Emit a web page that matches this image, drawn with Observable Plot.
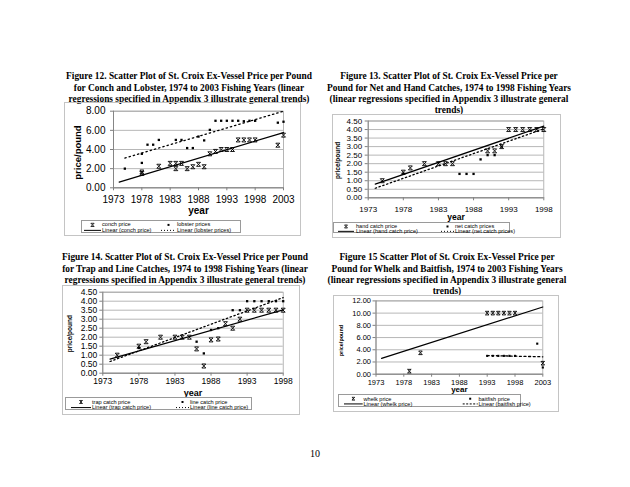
<!DOCTYPE html>
<html><head><meta charset="utf-8">
<script src="https://cdn.jsdelivr.net/npm/d3@7"></script>
<script src="https://cdn.jsdelivr.net/npm/@observablehq/plot@0.6"></script>
<style>
html,body{margin:0;padding:0;background:#fff}
#page{position:relative;width:630px;height:487px;overflow:hidden;background:#fff}
.title{position:absolute;transform:translateX(-50%);font-family:"Liberation Serif","Times New Roman",serif;font-weight:bold;font-size:9.4px;line-height:11.2px;text-align:center;white-space:nowrap;color:#000}
.area{position:absolute;border:1px solid #c4c4c4;box-sizing:border-box}
.chart{position:absolute}
.legend{position:absolute;border:1px solid #9a9a9a;box-sizing:border-box;background:#fff}
.legend span{position:absolute;font-family:"Liberation Sans",Arial,sans-serif;font-size:5.6px;line-height:6px;white-space:nowrap;color:#000;transform:translateY(-50%)}
.legend svg{position:absolute;left:0;top:0;overflow:visible}
#pnum{position:absolute;left:315px;top:453px;transform:translate(-50%,-50%);font-family:"Liberation Serif","Times New Roman",serif;font-size:10px}
</style></head><body><div id="page"></div>
<script>
// ---------- Figure 12: conch and lobster ----------
const conchYears = [1978,1978,1981,1983,1984,1984,1985,1986,1987,1988,1989,1990,1991,1992,1993,1994,1995,1996,1997,1998,2002,2003];
const conchPrice = [1.5,1.65,2.25,2.55,2.55,2.0,2.55,2.0,2.2,2.45,2.2,3.55,3.8,4.0,4.0,4.0,5.0,5.0,5.0,5.0,4.45,5.5];
const lobsterYears = [1975,1978,1978,1979,1980,1981,1984,1985,1986,1987,1988,1989,1990,1991,1992,1993,1994,1995,1996,1997,1998,2002,2003];
const lobsterPrice = [2.0,2.6,3.55,4.5,4.5,5.0,5.0,5.0,4.15,4.15,5.35,4.95,6.05,7.0,7.0,7.0,7.0,7.0,6.95,7.0,7.0,6.8,6.9];
const conchTrendYears = [1974,2003], conchTrendPrice = [0.6,5.77];
const lobsterTrendYears = [1975,2003], lobsterTrendPrice = [3.1,8.0];

// ---------- Figure 13: hand and net ----------
const handYears = [1975,1978,1979,1981,1983,1984,1985,1990,1991,1992,1993,1994,1995,1996,1997,1998];
const handPrice = [1.0,1.5,1.75,2.0,2.0,2.0,2.0,2.75,2.75,3.0,4.0,4.0,4.0,4.0,4.0,4.0];
const netYears = [1978,1986,1987,1988,1989,1990,1991,1992];
const netPrice = [1.4,1.4,1.4,1.4,2.25,2.5,2.5,3.0];
const handTrendYears = [1974,1998], handTrendPrice = [0.8,4.2];
const netTrendYears = [1974,1998], netTrendPrice = [0.56,4.04];

// ---------- Figure 14: trap and line ----------
const trapYears = [1975,1978,1979,1981,1983,1984,1985,1986,1987,1988,1989,1990,1991,1992,1993,1994,1995,1996,1997,1998];
const trapPrice = [1.0,1.5,1.75,2.0,2.0,2.0,2.0,1.35,0.4,1.85,1.9,2.75,2.5,3.0,3.5,3.5,3.5,3.5,3.5,3.5];
const lineYears = [1978,1986,1987,1988,1989,1991,1992,1993,1994,1995,1996,1997,1998];
const linePrice = [1.4,1.75,1.1,2.4,2.5,3.5,3.5,4.0,4.0,4.0,4.0,4.0,4.0];
const trapTrendYears = [1974,1998], trapTrendPrice = [0.78,3.52];
const lineTrendYears = [1974,1998], lineTrendPrice = [0.65,4.2];

// ---------- Figure 15: whelk and baitfish ----------
const whelkYears = [1979,1981,1993,1994,1995,1996,1997,1998,2003];
const whelkPrice = [0.5,3.5,10,10,10,10,10,10,1.8];
const baitYears = [1993,1994,1995,1996,1997,1998,2002,2003];
const baitPrice = [3,3,3,3,3,3,5,1.1];
const whelkTrendYears = [1974,2003], whelkTrendPrice = [2.6,11.0];
const baitTrendYears = [1993,2003], baitTrendPrice = [3.05,2.85];

// ---------- tick labels ----------
const yearTicks30 = [1973,1978,1983,1988,1993,1998,2003];
const yearTicks25 = [1973,1978,1983,1988,1993,1998];
const priceTicks8 = [0,2,4,6,8];
const priceTicks45 = [0,0.5,1,1.5,2,2.5,3,3.5,4,4.5];
const priceTicks12 = [0,2,4,6,8,10,12];

// ---------- texts ----------
const titles = [
  ["Figure 12. Scatter Plot of St. Croix Ex-Vessel Price per Pound","for Conch and Lobster, 1974 to 2003 Fishing Years (linear","regressions specified in Appendix 3 illustrate general trends)"],
  ["Figure 13.  Scatter Plot of St. Croix Ex-Vessel Price per","Pound for Net and Hand Catches, 1974 to 1998 Fishing Years","(linear regressions specified in Appendix 3 illustrate general","trends)"],
  ["Figure 14.  Scatter Plot of St. Croix Ex-Vessel Price per Pound","for Trap and Line Catches, 1974 to 1998 Fishing Years (linear","regressions specified in Appendix 3 illustrate general trends)"],
  ["Figure 15  Scatter Plot of St. Croix Ex-Vessel Price per","Pound for Whelk and Baitfish, 1974 to 2003 Fishing Years","(linear regressions specified in Appendix 3 illustrate general","trends)"]
];
const legendLabels = [
  ["conch price","lobster prices","Linear (conch price)","Linear (lobster prices)"],
  ["hand catch price","net catch prices","Linear (hand catch price)","Linear (net catch prices)"],
  ["trap catch price","line catch price","Linear (trap catch price)","Linear (line catch price)"],
  ["whelk price","baitfish price","Linear (whelk price)","Linear (baitfish price)"]
];

const page = document.getElementById("page");
const rows = (xs, ys) => xs.map((x, i) => ({year: x, price: ys[i]}));

// Excel-like "x" marker (cross with top and bottom bars)
const xSym = {draw(c, s) {
  const r = Math.sqrt(s / Math.PI);
  c.moveTo(-r, -r); c.lineTo(r, r);
  c.moveTo(r, -r); c.lineTo(-r, r);
  c.moveTo(-r, -r); c.lineTo(r, -r);
  c.moveTo(-r, r); c.lineTo(r, r);
}};

function addTitle(lines, cx, top) {
  const d = document.createElement("div");
  d.className = "title";
  d.style.left = cx + "px"; d.style.top = top + "px";
  lines.forEach((l, i) => { if (i) d.appendChild(document.createElement("br")); d.appendChild(document.createTextNode(l)); });
  page.appendChild(d);
}

function addChart(cfg) {
  const a = cfg.area;
  const box = document.createElement("div");
  box.className = "area";
  Object.assign(box.style, {left: a.x + "px", top: a.y + "px", width: a.w + "px", height: a.h + "px"});
  page.appendChild(box);
  const m = cfg.m;
  const svg = Plot.plot({
    width: a.w, height: a.h,
    marginTop: m.t, marginRight: m.r, marginBottom: m.b, marginLeft: m.l,
    style: {fontFamily: '"Liberation Sans", Arial, sans-serif', fontSize: cfg.font + "px", color: "#000", background: "transparent", overflow: "visible"},
    x: {domain: cfg.xDomain, label: null},
    y: {domain: cfg.yDomain, label: null},
    marks: [
      Plot.gridY(cfg.yTicks, {stroke: "#a4a4a4", strokeOpacity: 1, strokeWidth: 0.8}),
      Plot.frame({stroke: "#a4a4a4", strokeWidth: 0.8}),
      Plot.ruleX([cfg.xDomain[0]], {stroke: "#808080", strokeWidth: 0.9}),
      Plot.ruleY([cfg.yDomain[0]], {stroke: "#808080", strokeWidth: 0.9}),
      Plot.axisX(cfg.xTicks, {tickSize: 3, tickPadding: cfg.xPad, tickFormat: d => String(d), stroke: "#808080", fill: "#000", label: null}),
      Plot.axisY(cfg.yTicks, {tickSize: 3, tickPadding: cfg.yPad, tickFormat: d => d.toFixed(2), stroke: "#808080", fill: "#000", label: null}),
      Plot.line(cfg.t1, {x: "year", y: "price", stroke: "#000", strokeWidth: 1.2}),
      Plot.line(cfg.t2, {x: "year", y: "price", stroke: "#000", strokeWidth: 1.3, strokeDasharray: cfg.dash}),
      Plot.dot(cfg.s1, {x: "year", y: "price", symbol: xSym, r: cfg.rx, stroke: "#000", strokeWidth: 0.9, fill: "none"}),
      Plot.dot(cfg.s2, {x: "year", y: "price", symbol: "square", r: cfg.rs, fill: "#000", stroke: "none"}),
      Plot.text(["price/pound"], {text: d => d, frameAnchor: "left", textAnchor: "middle", lineAnchor: "middle", rotate: -90, dx: cfg.yLab.dx, dy: cfg.yLab.dy, fontWeight: "bold", fontSize: cfg.yLab.size, fill: "#000"}),
      Plot.text(["year"], {text: d => d, frameAnchor: "bottom", textAnchor: "middle", dy: cfg.xLab.dy, fontWeight: "bold", fontSize: cfg.xLab.size, fill: "#000", lineAnchor: "middle"})
    ]
  });
  svg.classList.add("chart");
  svg.style.left = a.x + "px"; svg.style.top = a.y + "px";
  page.appendChild(svg);

  // legend
  const L = cfg.legend, labels = cfg.labels;
  const lg = document.createElement("div");
  lg.className = "legend";
  Object.assign(lg.style, {left: L.x + "px", top: L.y + "px", width: L.w + "px", height: L.h + "px"});
  const y1 = L.h * 0.3, y2 = L.h * 0.72;
  const c1a = L.c1[0] - L.x, c1b = L.c1[1] - L.x, c2a = L.c2[0] - L.x, c2b = L.c2[1] - L.x;
  const m1 = (c1a + c1b) / 2, m2 = (c2a + c2b) / 2, q = cfg.legendMark;
  const ns = "http://www.w3.org/2000/svg";
  const s = document.createElementNS(ns, "svg");
  s.setAttribute("width", L.w); s.setAttribute("height", L.h);
  s.innerHTML =
    `<path d="M${m1-q},${y1-q}L${m1+q},${y1+q}M${m1+q},${y1-q}L${m1-q},${y1+q}M${m1-q},${y1-q}H${m1+q}M${m1-q},${y1+q}H${m1+q}" stroke="#000" stroke-width="0.8" fill="none"/>` +
    `<rect x="${m2-1}" y="${y1-1}" width="2" height="2" fill="#000"/>` +
    `<line x1="${c1a}" x2="${c1b}" y1="${y2}" y2="${y2}" stroke="#000" stroke-width="1"/>` +
    `<line x1="${c2a}" x2="${c2b}" y1="${y2}" y2="${y2}" stroke="#000" stroke-width="1" stroke-dasharray="${cfg.legendDash}"/>`;
  lg.appendChild(s);
  const pos = [[L.t1, y1], [L.t2, y1], [L.t1, y2], [L.t2, y2]];
  labels.forEach((t, i) => {
    const sp = document.createElement("span");
    sp.textContent = t;
    sp.style.left = (pos[i][0] - L.x) + "px";
    sp.style.top = pos[i][1] + "px";
    lg.appendChild(sp);
  });
  page.appendChild(lg);
}

addTitle(titles[0], 189, 71.4);
addTitle(titles[1], 449, 71.4);
addTitle(titles[2], 185, 252.4);
addTitle(titles[3], 447, 252.4);

addChart({
  area: {x: 64, y: 102, w: 237, h: 134}, m: {t: 8.7, r: 18, b: 48.7, l: 49},
  xDomain: [1973, 2003], yDomain: [0, 8], xTicks: yearTicks30, yTicks: priceTicks8,
  font: 10, xPad: 4.6, yPad: 5,
  s1: rows(conchYears, conchPrice), s2: rows(lobsterYears, lobsterPrice),
  t1: rows(conchTrendYears, conchTrendPrice), t2: rows(lobsterTrendYears, lobsterTrendPrice),
  dash: "1.4,3", rx: 2, rs: 1.3,
  yLab: {dx: -36, dy: 3, size: 9.5}, xLab: {dy: 22.7, size: 10},
  legend: {x: 81, y: 219.5, w: 160, h: 13, c1: [83, 100], t1: 101, c2: [160, 175], t2: 176},
  labels: legendLabels[0], legendMark: 1.6, legendDash: "1,2"
});
addChart({
  area: {x: 332, y: 114, w: 229, h: 124}, m: {t: 6.5, r: 17.7, b: 40.7, l: 35.7},
  xDomain: [1973, 1998], yDomain: [0, 4.5], xTicks: yearTicks25, yTicks: priceTicks45,
  font: 8, xPad: 5.5, yPad: 3,
  s1: rows(handYears, handPrice), s2: rows(netYears, netPrice),
  t1: rows(handTrendYears, handTrendPrice), t2: rows(netTrendYears, netTrendPrice),
  dash: "1.4,2.6", rx: 2, rs: 1.3,
  yLab: {dx: -30.4, dy: 1, size: 6.5}, xLab: {dy: 19.4, size: 8.5},
  legend: {x: 333, y: 221.7, w: 177, h: 11.6, c1: [337, 353], t1: 355, c2: [440, 453], t2: 454},
  labels: legendLabels[1], legendMark: 1.5, legendDash: "1,2"
});
addChart({
  area: {x: 62, y: 285, w: 238, h: 130}, m: {t: 6.7, r: 17.3, b: 42.3, l: 40.3},
  xDomain: [1973, 1998], yDomain: [0, 4.5], xTicks: yearTicks25, yTicks: priceTicks45,
  font: 8.5, xPad: 2, yPad: 2.6,
  s1: rows(trapYears, trapPrice), s2: rows(lineYears, linePrice),
  t1: rows(trapTrendYears, trapTrendPrice), t2: rows(lineTrendYears, lineTrendPrice),
  dash: "1.4,2.6", rx: 2, rs: 1.3,
  yLab: {dx: -33, dy: 1, size: 6.5}, xLab: {dy: 20, size: 9},
  legend: {x: 65, y: 396.7, w: 187, h: 13.3, c1: [70, 90], t1: 91, c2: [175, 188], t2: 189},
  labels: legendLabels[2], legendMark: 1.5, legendDash: "1,2"
});
addChart({
  area: {x: 333, y: 295, w: 226, h: 117}, m: {t: 5.4, r: 16.7, b: 38.3, l: 42.5},
  xDomain: [1973, 2003], yDomain: [0, 12], xTicks: yearTicks30, yTicks: priceTicks12,
  font: 7.5, xPad: 2.3, yPad: 2,
  s1: rows(whelkYears, whelkPrice), s2: rows(baitYears, baitPrice),
  t1: rows(whelkTrendYears, whelkTrendPrice), t2: rows(baitTrendYears, baitTrendPrice),
  dash: "2,2.6", rx: 1.8, rs: 1.2,
  yLab: {dx: -35, dy: 3, size: 5.5}, xLab: {dy: 15.6, size: 8},
  legend: {x: 338, y: 394.3, w: 182.5, h: 12.4, c1: [343, 361.7], t1: 362.5, c2: [461.7, 476.7], t2: 477.5},
  labels: legendLabels[3], legendMark: 1.4, legendDash: "2,1.5"
});

const pn = document.createElement("div");
pn.id = "pnum"; pn.textContent = "10";
page.appendChild(pn);
</script></body></html>
